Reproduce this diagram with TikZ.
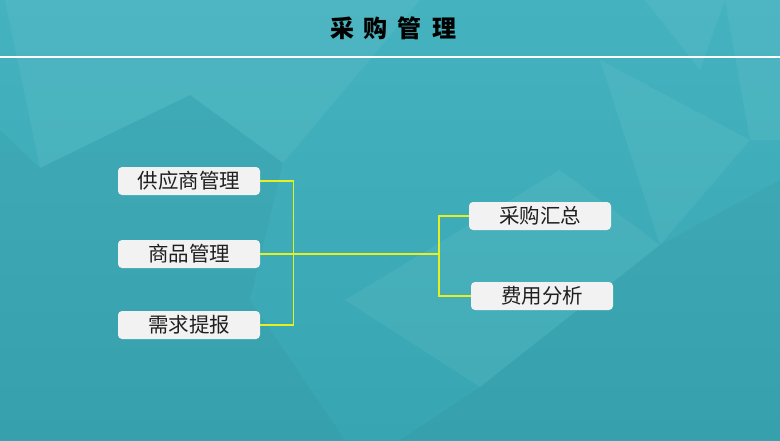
\documentclass[tikz,border=0pt]{standalone}
\usepackage{fontspec}
\newfontfamily\cjk{Noto Sans CJK SC}
\definecolor{bgtop}{HTML}{44B3BF}
\definecolor{bgbottom}{HTML}{38A6B2}
\definecolor{boxgray}{HTML}{F2F2F2}
\definecolor{linkyellow}{HTML}{E6F020}

\begin{document}
\begin{tikzpicture}[
  x=1pt, y=-1pt,
  facet/.style={fill=white,fill opacity=0.05,draw=none},
  darkfacet/.style={fill=black,fill opacity=0.03,draw=none},
  item/.style={draw=none,fill=boxgray,rounded corners=4pt,minimum width=142pt,minimum height=28pt,inner sep=0pt,font=\cjk\fontsize{20.5}{20.5}\selectfont,text=black!88},
  link/.style={draw=linkyellow,line width=1.2pt}
  ]

\useasboundingbox (0,0) rectangle (780,440);
\shade[top color=bgtop,bottom color=bgbottom] (0,0) rectangle (780,440);

\fill[facet] (5,0) -- (100,0) -- (40,168) -- cycle;
\fill[facet] (100,0) -- (300,0) -- (190,95) -- (40,168) -- cycle;
\fill[facet] (190,95) -- (300,0) -- (420,0) -- (283,163) -- cycle;
\fill[darkfacet] (40,168) -- (190,95) -- (283,163) -- (250,300) -- (0,300) -- (0,130) -- cycle;
\fill[facet] (645,0) -- (725,0) -- (700,70) -- cycle;
\fill[facet] (725,0) -- (780,0) -- (780,140) -- (750,140) -- cycle;
\fill[facet] (600,60) -- (750,140) -- (660,245) -- cycle;
\fill[facet] (345,300) -- (480,387) -- (660,245) -- (560,170) -- cycle;
\fill[darkfacet] (480,387) -- (660,245) -- (780,180) -- (780,440) -- (400,440) -- cycle;
\fill[darkfacet] (0,300) -- (250,300) -- (345,440) -- (0,440) -- cycle;

\node (title) at (393,28) {\cjk\bfseries\fontsize{24}{24}\selectfont 采\hspace{10pt}购\hspace{10pt}管\hspace{10pt}理};
\draw[white,line width=2pt] (0,57) -- (780,57);

\node[item] (supplier) at (189,181) {供应商管理};
\node[item] (goods) at (189,254) {商品管理};
\node[item] (demand) at (189,325) {需求提报};
\node[item] (summary) at (540,216) {采购汇总};
\node[item] (cost) at (542,296) {费用分析};

\coordinate (hub) at (439,254);

\draw[link] (supplier.east) -- ++(33.5,0) |- (demand.east);
\draw[link] (goods.east) -- (hub);
\draw[link] (hub) |- (summary.west);
\draw[link,line width=1.8pt] (hub) |- (cost.west);

\end{tikzpicture}
\end{document}
